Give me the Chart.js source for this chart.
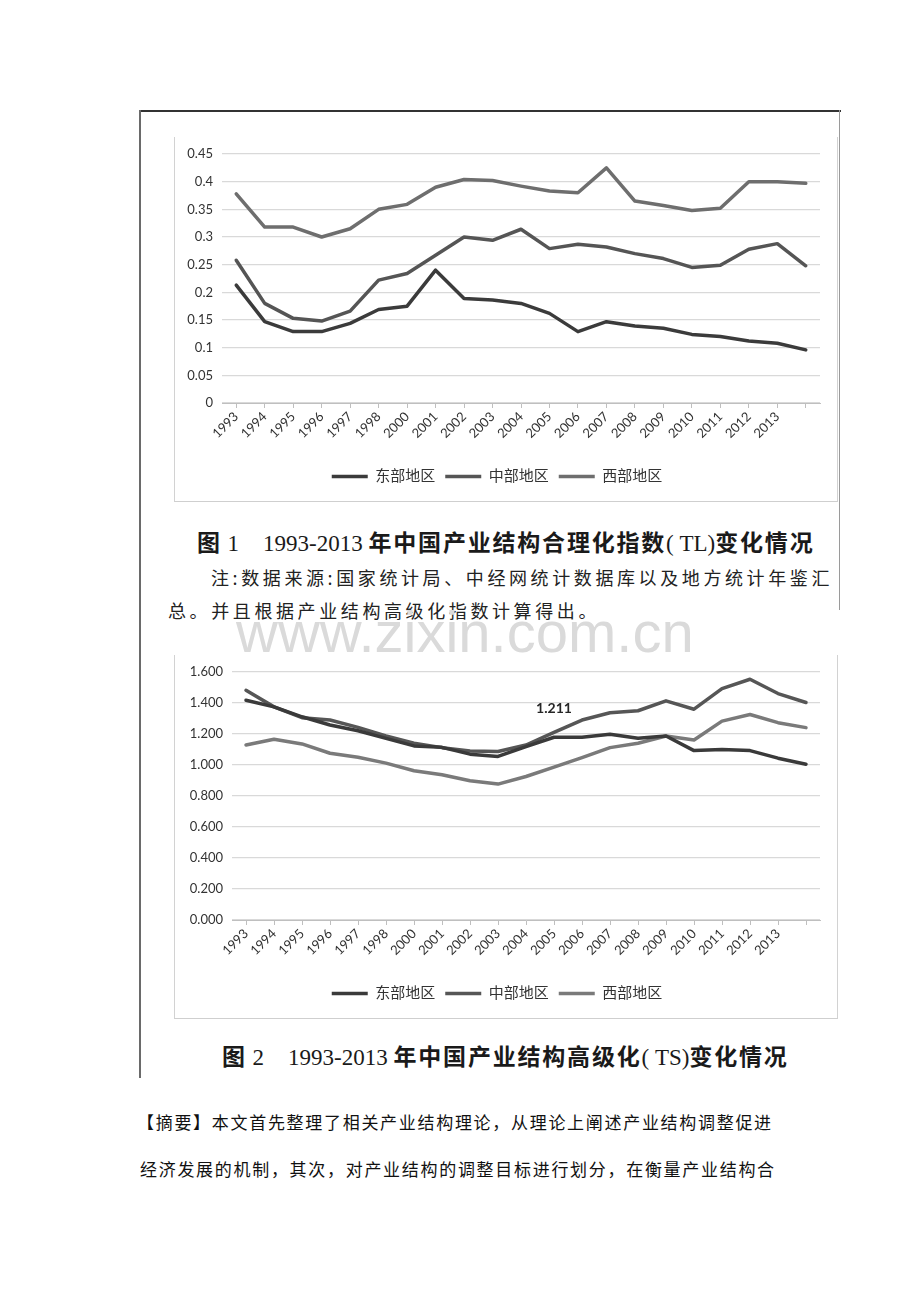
<!DOCTYPE html>
<html>
<head>
<meta charset="utf-8">
<script src="https://cdn.jsdelivr.net/npm/chart.js@4.4.1/dist/chart.umd.min.js"></script>
<style>
  body { margin: 0; background: #fff; width: 920px; height: 1302px; position: relative; overflow: hidden;
         font-family: "Noto Sans CJK SC", sans-serif; color: #1a1a1a; }
  .abs { position: absolute; }
  .box { position: absolute; box-sizing: border-box; border-left: 1px solid #d2d2d2; border-right: 1px solid #d2d2d2; border-bottom: 1.5px solid #cfcfcf; }
  .cap { position: absolute; font-size: 23px; line-height: 26px; white-space: nowrap; color: #1a1a1a; }
  .hei { font-family: "Noto Sans CJK SC", sans-serif; font-weight: 700; letter-spacing: 1.8px; }
  .ser { font-family: "Liberation Serif", serif; }
  .note { position: absolute; font-size: 18px; line-height: 24px; letter-spacing: 3.6px; white-space: nowrap; overflow: hidden; color: #222; }
  .body { position: absolute; font-size: 17px; line-height: 24px; letter-spacing: 1.7px; white-space: nowrap; color: #111; }
  .wm { position: absolute; font-family: "Liberation Sans", Arial, sans-serif; font-size: 58px; line-height: 58px; color: #dadada; white-space: nowrap; }
</style>
</head>
<body>

<!-- scan frame -->
<div class="abs" style="left:139px;top:110px;width:702px;height:2px;background:#333"></div>
<div class="abs" style="left:139px;top:110px;width:1.5px;height:968px;background:#6a6a6a"></div>
<div class="abs" style="left:839px;top:110px;width:1px;height:500px;background:#9a9a9a"></div>

<!-- figure 1 -->
<div class="box" style="left:174px;top:137px;width:664px;height:365px"></div>
<div class="abs" style="left:174px;top:137px;width:664px;height:365px"><canvas id="tlChart"></canvas></div>

<div class="cap" style="left:197px;top:528px">
  <span class="hei">图</span><span class="ser"> 1</span><span class="ser" style="margin-left:24px">1993-2013 </span><span class="hei">年中国产业结构合理化指数</span><span class="ser">( TL)</span><span class="hei">变化情况</span>
</div>
<div class="note" style="left:211px;top:565px;width:629px">注:数据来源:国家统计局、中经网统计数据库以及地方统计年鉴汇</div>
<div class="note" style="left:168px;top:598px">总。并且根据产业结构高级化指数计算得出。</div>

<div class="wm" style="left:236px;top:603px">www.zixin.com.cn</div>

<!-- figure 2 -->
<div class="box" style="left:174px;top:655px;width:664px;height:364px"></div>
<div class="abs" style="left:174px;top:655px;width:664px;height:364px"><canvas id="tsChart"></canvas></div>

<div class="cap" style="left:222px;top:1042px">
  <span class="hei">图</span><span class="ser"> 2</span><span class="ser" style="margin-left:24px">1993-2013 </span><span class="hei">年中国产业结构高级化</span><span class="ser">( TS)</span><span class="hei">变化情况</span>
</div>

<div class="body" style="left:137px;top:1110px">【摘要】本文首先整理了相关产业结构理论，从理论上阐述产业结构调整促进</div>
<div class="body" style="left:140px;top:1157px">经济发展的机制，其次，对产业结构的调整目标进行划分，在衡量产业结构合</div>

<script>
// x axis: 21 points, the last one has no label (1999 missing in source)
const years = ['1993','1994','1995','1996','1997','1998','2000','2001','2002','2003','2004',
               '2005','2006','2007','2008','2009','2010','2011','2012','2013',''];
const seriesNames = ['东部地区', '中部地区', '西部地区'];

// figure 1 - TL index
const tlEast    = [0.213,0.147,0.129,0.129,0.144,0.169,0.175,0.240,0.189,0.186,0.180,0.162,0.129,0.147,0.139,0.135,0.124,0.120,0.112,0.108,0.096];
const tlCentral = [0.258,0.180,0.153,0.148,0.166,0.222,0.234,0.267,0.300,0.294,0.314,0.279,0.287,0.282,0.270,0.261,0.245,0.249,0.278,0.288,0.248];
const tlWest    = [0.378,0.318,0.318,0.300,0.315,0.350,0.359,0.390,0.404,0.402,0.392,0.383,0.380,0.425,0.365,0.357,0.348,0.352,0.400,0.400,0.397];
const tlMax = 0.45, tlStep = 0.05;

// figure 2 - TS index
const tsEast    = [1.418,1.375,1.311,1.258,1.221,1.172,1.123,1.114,1.070,1.055,1.119,1.179,1.179,1.198,1.172,1.187,1.093,1.100,1.093,1.044,1.005];
const tsCentral = [1.482,1.375,1.305,1.290,1.243,1.187,1.140,1.112,1.090,1.087,1.129,1.211,1.290,1.337,1.350,1.414,1.360,1.493,1.553,1.461,1.403];
const tsWest    = [1.129,1.166,1.136,1.076,1.050,1.012,0.963,0.937,0.898,0.877,0.926,0.986,1.048,1.112,1.140,1.187,1.161,1.283,1.326,1.273,1.241];
const tsMax = 1.6, tsStep = 0.2;
const tsLabelIndex = 11; // the "1.211" label on 中部地区

const fontStack = 'Lato, "Noto Sans CJK SC", sans-serif';

// draws one value label above a point
const pointLabel = {
  id: 'pointLabel',
  afterDatasetsDraw(chart, args, opts) {
    if (opts.dataset == null) return;
    const ds = chart.data.datasets[opts.dataset];
    const pt = chart.getDatasetMeta(opts.dataset).data[opts.index];
    const ctx = chart.ctx;
    ctx.save();
    ctx.font = 'bold 14px ' + fontStack;
    ctx.fillStyle = '#262626';
    ctx.textAlign = 'center';
    ctx.textBaseline = 'middle';
    ctx.fillText(ds.data[opts.index].toFixed(3), pt.x, pt.y - 24);
    ctx.restore();
  }
};

function makeChart(id, series, colors, yMax, yStep, yFmt, yWidth, legendSize, extra) {
  const datasets = series.map((d, i) => ({
    label: seriesNames[i],
    data: d,
    borderColor: colors[i],
    backgroundColor: colors[i],
    borderWidth: 3.5,
    pointRadius: 0,
    tension: 0,
    borderJoinStyle: 'round',
    borderCapStyle: 'round'
  }));

  return new Chart(document.getElementById(id), {
    type: 'line',
    data: { labels: years, datasets },
    plugins: extra ? [pointLabel] : [],
    options: {
      responsive: true,
      maintainAspectRatio: false,
      animation: false,
      devicePixelRatio: 1,
      layout: { padding: { top: 17, right: 18, left: 0, bottom: 8 } },
      plugins: {
        tooltip: { enabled: false },
        legend: {
          position: 'bottom',
          labels: {
            usePointStyle: true,
            pointStyle: 'line',
            pointStyleWidth: 36,
            color: '#333333',
            padding: 10,
            font: { family: fontStack, size: legendSize }
          }
        },
        pointLabel: extra || {}
      },
      scales: {
        x: {
          offset: true,
          afterFit(scale) { scale.height = 56; },
          grid: { drawOnChartArea: false, color: '#bfbfbf', tickLength: 5 },
          border: { color: '#bfbfbf' },
          ticks: {
            color: '#333333', autoSkip: false, minRotation: 45, maxRotation: 45, padding: 1,
            font: { family: fontStack, size: 13 }
          }
        },
        y: {
          min: 0, max: yMax,
          afterFit(scale) { scale.width = yWidth; },
          grid: { color: '#d9d9d9', lineWidth: 1.2, drawTicks: false },
          border: { display: false },
          ticks: {
            stepSize: yStep, color: '#333333', padding: 9,
            font: { family: fontStack, size: 13 },
            callback: yFmt
          }
        }
      }
    }
  });
}

document.fonts.ready.then(() => {
  makeChart('tlChart', [tlEast, tlCentral, tlWest], ['#3b3b3b', '#555555', '#6e6e6e'],
    tlMax, tlStep, v => String(+v.toFixed(2)), 48, 15, null);

  makeChart('tsChart', [tsEast, tsCentral, tsWest], ['#3a3a3a', '#565656', '#7a7a7a'],
    tsMax, tsStep, v => v.toFixed(3), 58, 15, { dataset: 1, index: tsLabelIndex });
});
</script>
</body>
</html>
